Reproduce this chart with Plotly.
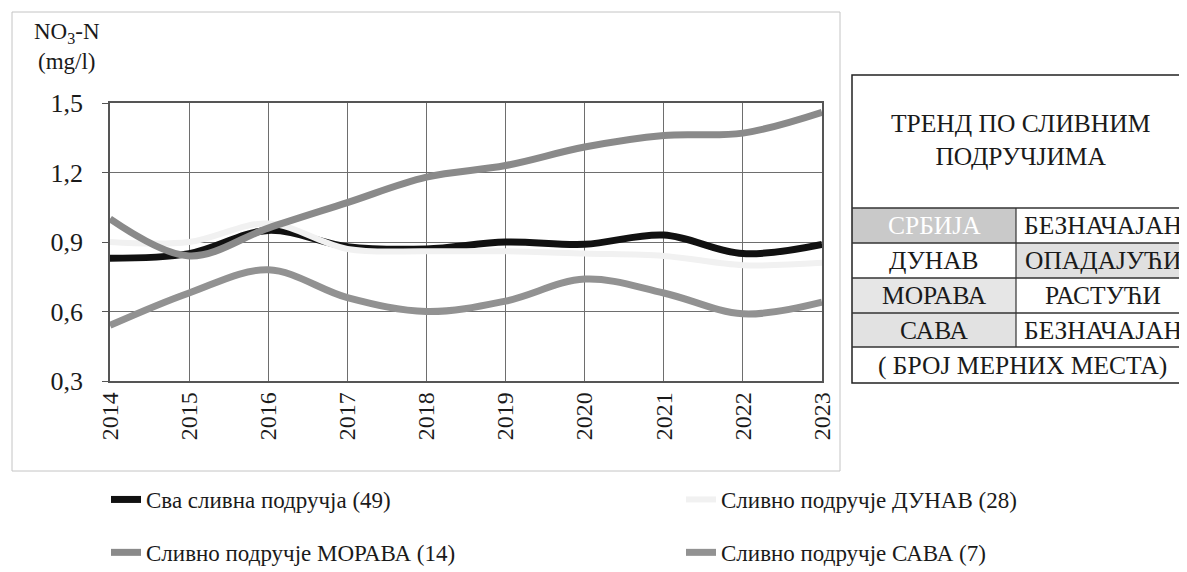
import plotly.graph_objects as go

years = [2014, 2015, 2016, 2017, 2018, 2019, 2020, 2021, 2022, 2023]
all_areas = [0.83, 0.85, 0.95, 0.88, 0.87, 0.90, 0.89, 0.93, 0.85, 0.89]
dunav = [0.90, 0.90, 0.98, 0.87, 0.86, 0.86, 0.85, 0.84, 0.80, 0.81]
morava = [1.00, 0.84, 0.96, 1.07, 1.18, 1.23, 1.31, 1.36, 1.37, 1.46]
sava = [0.54, 0.68, 0.78, 0.66, 0.60, 0.645, 0.74, 0.68, 0.59, 0.64]

series_names = ["Сва сливна подручја (49)", "Сливно подручје ДУНАВ (28)",
                "Сливно подручје МОРАВА (14)", "Сливно подручје САВА (7)"]
y_ticks = [0.3, 0.6, 0.9, 1.2, 1.5]
y_tick_labels = ["0,3", "0,6", "0,9", "1,2", "1,5"]

table_title = "ТРЕНД ПО СЛИВНИМ<br>ПОДРУЧЈИМА"
table_areas = ["СРБИЈА", "ДУНАВ", "МОРАВА", "САВА"]
table_trends = ["БЕЗНАЧАЈАН", "ОПАДАЈУЋИ", "РАСТУЋИ", "БЕЗНАЧАЈАН"]
table_footer = "( БРОЈ МЕРНИХ МЕСТА)"

FONT = "Liberation Serif"
OFF = 8                      # page body margin
W, H = 1187 - OFF, 572 - OFF
# plot area in screen pixels
SL, SR, ST, SB = 110, 822, 103, 381
L, R, T, B = SL - OFF, SR - OFF, ST - OFF, SB - OFF
TFS = 25.5                   # table font size


def px(xs):
    return (xs - SL) / (SR - SL)


def py(ys):
    return (SB - ys) / (SB - ST)


fig = go.Figure()
fig.add_trace(go.Scatter(x=years, y=all_areas, mode="lines", name=series_names[0],
                         line=dict(color="#111111", width=7, shape="spline"),
                         legend="legend", legendgroup="a"))
fig.add_trace(go.Scatter(x=years, y=dunav, mode="lines", name=series_names[1],
                         line=dict(color="#f1f1f1", width=6, shape="spline"),
                         legend="legend2", legendgroup="b"))
fig.add_trace(go.Scatter(x=years, y=morava, mode="lines", name=series_names[2],
                         line=dict(color="#8a8a8a", width=7, shape="spline"),
                         legend="legend", legendgroup="c"))
fig.add_trace(go.Scatter(x=years, y=sava, mode="lines", name=series_names[3],
                         line=dict(color="#929292", width=7, shape="spline"),
                         legend="legend2", legendgroup="d"))

shapes = []
annotations = []

# outer faint frame of chart area
shapes.append(dict(type="rect", xref="paper", yref="paper",
                   x0=px(12), x1=px(840), y0=py(471), y1=py(12),
                   line=dict(color="#c4c4c4", width=1), layer="below"))

# table
TL, TR, TT = 852, 1260, 75
row_lines = [208, 243, 278, 313, 347, 383]
DIV = 1016
fills_left = ["#c9c9c9", "white", "#e6e6e6", "#e2e2e2"]
fills_right = ["white", "#e0e0e0", "white", "white"]
for i in range(4):
    y0, y1 = row_lines[i], row_lines[i + 1]
    shapes.append(dict(type="rect", xref="paper", yref="paper",
                       x0=px(TL), x1=px(DIV), y0=py(y1), y1=py(y0),
                       fillcolor=fills_left[i], line=dict(width=0), layer="above"))
    shapes.append(dict(type="rect", xref="paper", yref="paper",
                       x0=px(DIV), x1=px(TR), y0=py(y1), y1=py(y0),
                       fillcolor=fills_right[i], line=dict(width=0), layer="above"))
shapes.append(dict(type="rect", xref="paper", yref="paper",
                   x0=px(TL), x1=px(TR), y0=py(row_lines[-1]), y1=py(TT),
                   line=dict(color="#222222", width=1.5), layer="above"))
for yl in row_lines[:-1]:
    shapes.append(dict(type="line", xref="paper", yref="paper",
                       x0=px(TL), x1=px(TR), y0=py(yl), y1=py(yl),
                       line=dict(color="#333333", width=1.5), layer="above"))
shapes.append(dict(type="line", xref="paper", yref="paper",
                   x0=px(DIV), x1=px(DIV), y0=py(row_lines[4]), y1=py(row_lines[0]),
                   line=dict(color="#333333", width=1.2), layer="above"))

annotations.append(dict(x=px(1020), y=py(140), xref="paper", yref="paper",
                        text=table_title, showarrow=False,
                        font=dict(family=FONT, size=TFS, color="#1a1a1a"),
                        xanchor="center", yanchor="middle", align="center"))
for i in range(4):
    yc = (row_lines[i] + row_lines[i + 1]) / 2
    annotations.append(dict(x=px((TL + DIV) / 2), y=py(yc), xref="paper", yref="paper",
                            text=table_areas[i], showarrow=False,
                            font=dict(family=FONT, size=TFS,
                                      color="white" if i == 0 else "#1a1a1a"),
                            xanchor="center", yanchor="middle"))
    annotations.append(dict(x=px(1103), y=py(yc), xref="paper", yref="paper",
                            text=table_trends[i], showarrow=False,
                            font=dict(family=FONT, size=TFS, color="#1a1a1a"),
                            xanchor="center", yanchor="middle"))
annotations.append(dict(x=px(1022), y=py((row_lines[4] + row_lines[5]) / 2), xref="paper", yref="paper",
                        text=table_footer, showarrow=False,
                        font=dict(family=FONT, size=TFS, color="#1a1a1a"),
                        xanchor="center", yanchor="middle"))

# y-axis title
annotations.append(dict(x=px(67), y=py(47), xref="paper", yref="paper",
                        text="NO<sub>3</sub>-N<br>(mg/l)", showarrow=False,
                        font=dict(family=FONT, size=23, color="#1a1a1a"),
                        xanchor="center", yanchor="middle", align="center"))

fig.update_layout(
    width=W, height=H,
    margin=dict(l=L, r=W - R, t=T, b=H - B, autoexpand=False),
    paper_bgcolor="white", plot_bgcolor="white",
    font=dict(family=FONT, size=22, color="#1a1a1a"),
    separators=", ",
    showlegend=True,
    legend=dict(x=px(106), y=py(478), xanchor="left", yanchor="top",
                orientation="v", tracegroupgap=20, bgcolor="rgba(0,0,0,0)",
                font=dict(family=FONT, size=23, color="#1a1a1a")),
    legend2=dict(x=px(681), y=py(478), xanchor="left", yanchor="top",
                 orientation="v", tracegroupgap=20, bgcolor="rgba(0,0,0,0)",
                 font=dict(family=FONT, size=23, color="#1a1a1a")),
    shapes=shapes,
    annotations=annotations,
    xaxis=dict(range=[2014, 2023], tickmode="array", tickvals=years,
               ticktext=[str(y) for y in years], tickangle=-90,
               showgrid=True, gridcolor="#6e6e6e", gridwidth=1,
               showline=True, linecolor="#555555", linewidth=1.5, mirror=True,
               ticks="", zeroline=False, automargin=False,
               tickfont=dict(family=FONT, size=24, color="#1a1a1a")),
    yaxis=dict(range=[0.3, 1.5], tickmode="array", tickvals=y_ticks,
               ticktext=y_tick_labels,
               showgrid=True, gridcolor="#6e6e6e", gridwidth=1,
               showline=True, linecolor="#555555", linewidth=1.5, mirror=True,
               ticks="outside", ticklen=6, tickcolor="#555555",
               ticklabelstandoff=14,
               zeroline=False, automargin=False,
               tickfont=dict(family=FONT, size=26, color="#1a1a1a")),
)

fig.write_html("out.html")
